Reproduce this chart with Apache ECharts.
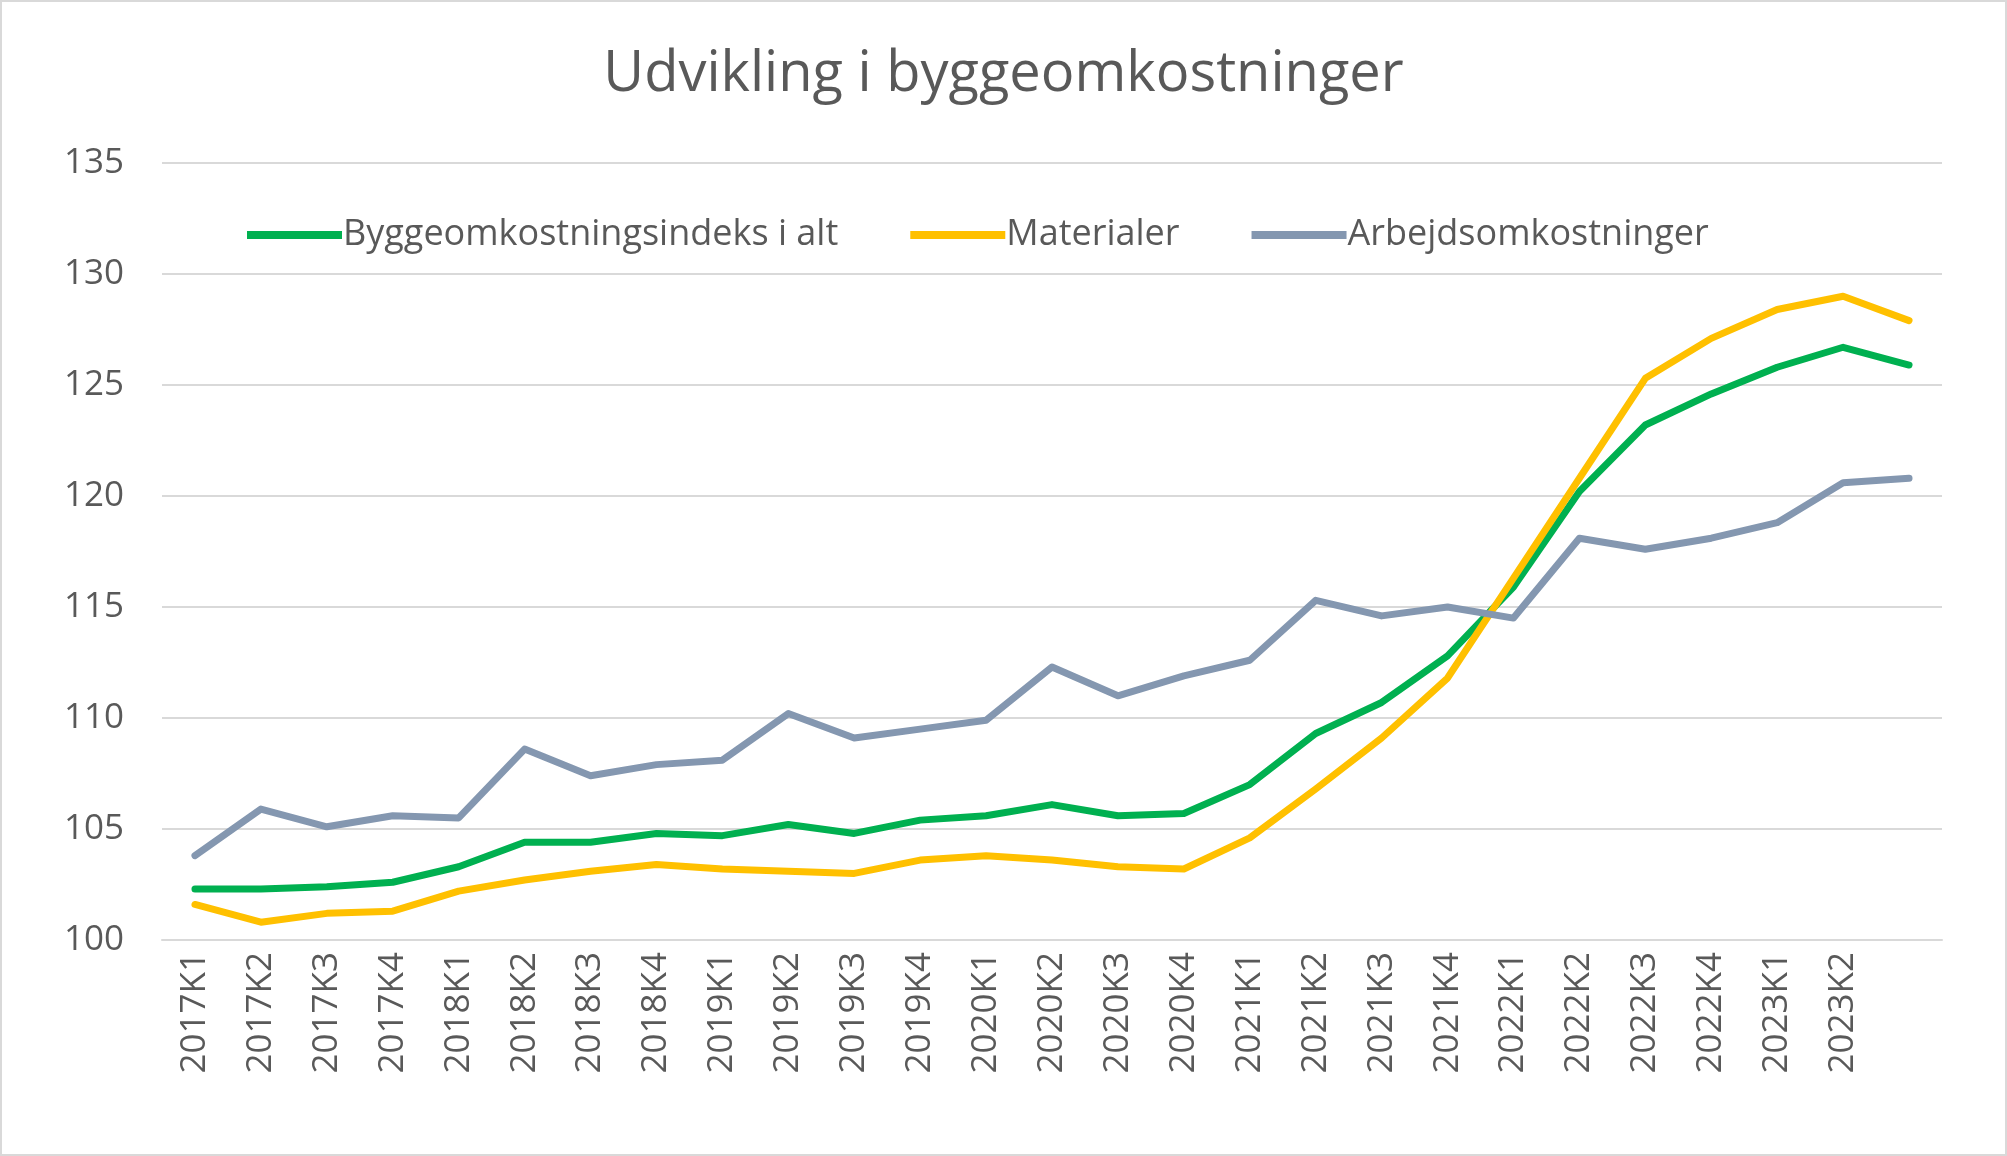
<!DOCTYPE html>
<html><head><meta charset="utf-8">
<script src="https://cdn.jsdelivr.net/npm/echarts@6/dist/echarts.min.js"></script>
<style>html,body{margin:0;padding:0;background:#fff}#c{width:2007px;height:1156px;box-sizing:border-box;border:2px solid #d9d9d9}</style>
</head><body><div id="c"></div>
<script>
const categories=['2017K1','2017K2','2017K3','2017K4','2018K1','2018K2','2018K3','2018K4','2019K1','2019K2','2019K3','2019K4','2020K1','2020K2','2020K3','2020K4','2021K1','2021K2','2021K3','2021K4','2022K1','2022K2','2022K3','2022K4','2023K1','2023K2',''];
const total=[102.3,102.3,102.4,102.6,103.3,104.4,104.4,104.8,104.7,105.2,104.8,105.4,105.6,106.1,105.6,105.7,107.0,109.3,110.7,112.8,115.9,120.2,123.2,124.6,125.8,126.7,125.9];
const materials=[101.6,100.8,101.2,101.3,102.2,102.7,103.1,103.4,103.2,103.1,103.0,103.6,103.8,103.6,103.3,103.2,104.6,106.8,109.1,111.8,116.3,120.8,125.3,127.1,128.4,129.0,127.9];
const labour=[103.8,105.9,105.1,105.6,105.5,108.6,107.4,107.9,108.1,110.2,109.1,109.5,109.9,112.3,111.0,111.9,112.6,115.3,114.6,115.0,114.5,118.1,117.6,118.1,118.8,120.6,120.8];
const yTicks={min:100,max:135,interval:5};
const chart=echarts.init(document.getElementById('c'));
const font='"Open Sans", "Noto Sans", sans-serif';
const mk=(name,data,color)=>({name,type:'line',data,symbol:'none',smooth:false,lineStyle:{width:7,color,cap:'round',join:'round'},itemStyle:{color}});
chart.setOption({
 textStyle:{fontFamily:font},
 title:{text:'Udvikling i byggeomkostninger',left:'center',top:40,textStyle:{fontSize:56,fontWeight:'normal',color:'#595959',fontFamily:font}},
 legend:{left:240,top:210,itemWidth:95,itemHeight:8,itemGap:72,icon:'rect',textStyle:{fontSize:36,color:'#595959',padding:[0,0,0,-4],fontFamily:font}},
 grid:{left:160,right:63,top:161,bottom:214},
 xAxis:{type:'category',data:categories,boundaryGap:true,axisLine:{lineStyle:{color:'#d9d9d9',width:2}},axisTick:{show:false},
   axisLabel:{rotate:90,fontSize:35,color:'#595959',margin:12,interval:0,fontFamily:font}},
 yAxis:{type:'value',min:yTicks.min,max:yTicks.max,interval:yTicks.interval,axisLine:{show:false},axisTick:{show:false},
   splitLine:{lineStyle:{color:'#d9d9d9',width:2}},axisLabel:{fontSize:35,color:'#595959',margin:38,fontFamily:font}},
 series:[mk('Byggeomkostningsindeks i alt',total,'#00B050'),mk('Materialer',materials,'#FFC000'),mk('Arbejdsomkostninger',labour,'#8497B0')]
});
</script></body></html>
